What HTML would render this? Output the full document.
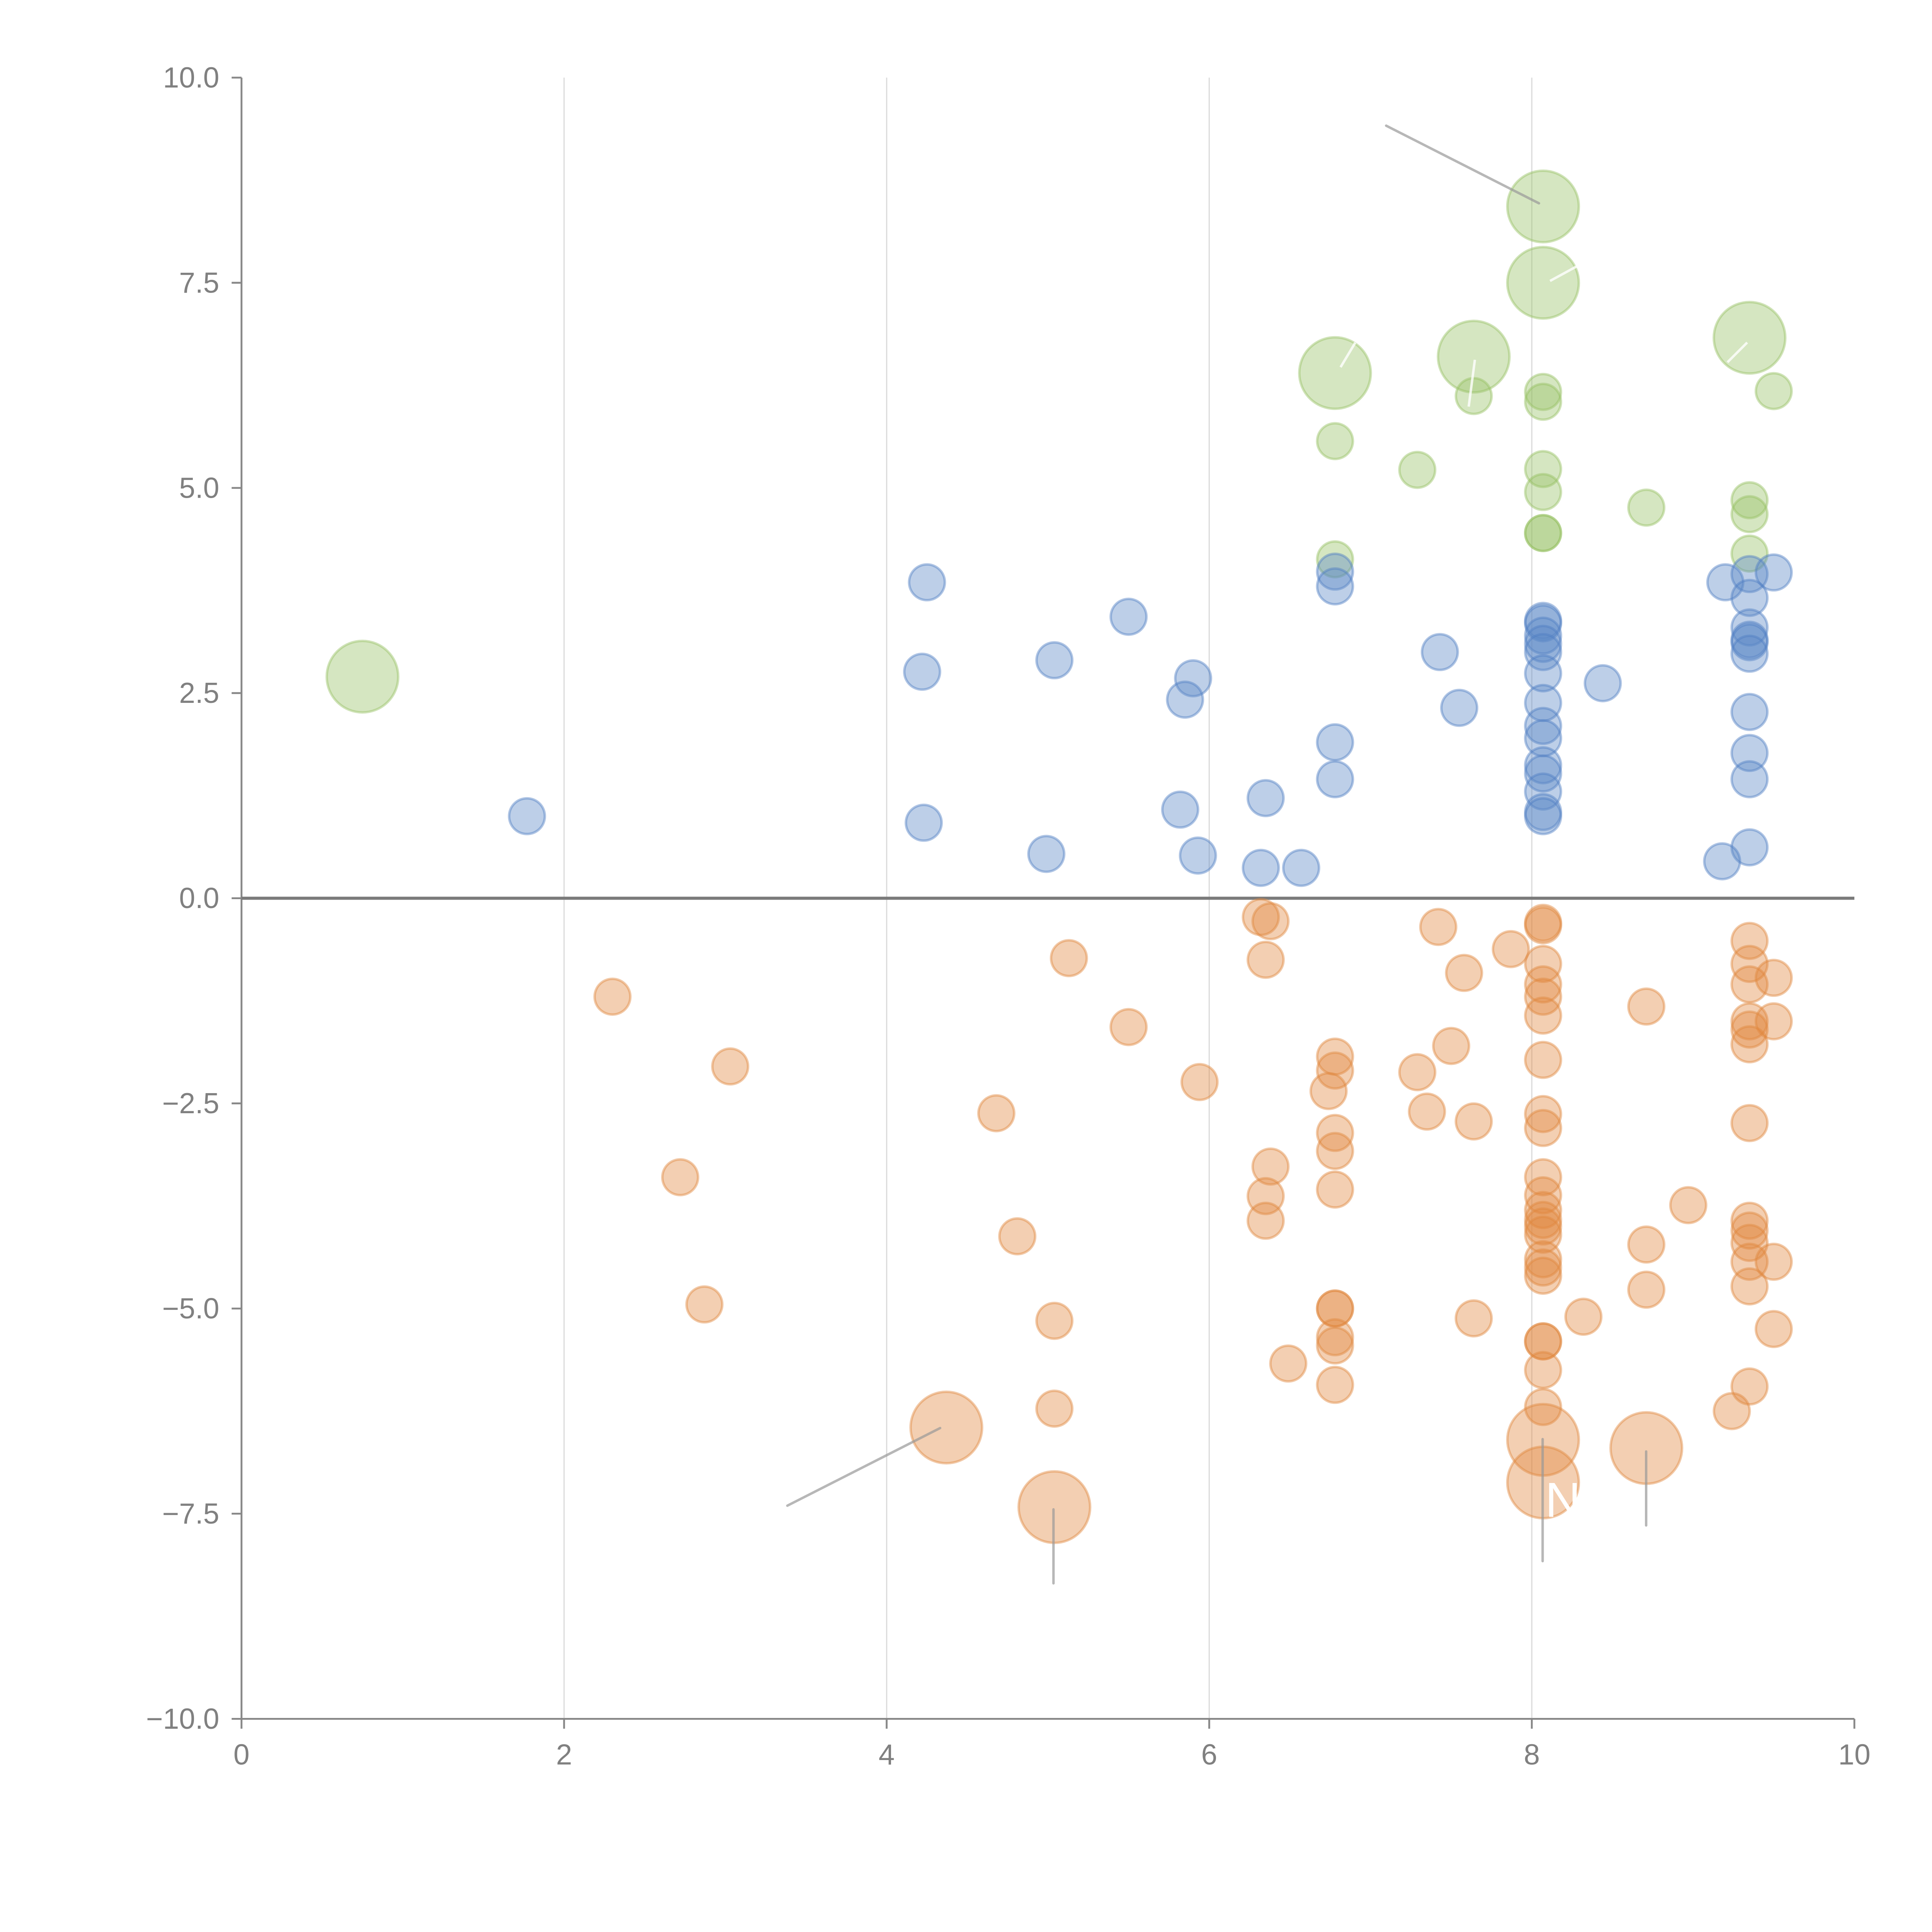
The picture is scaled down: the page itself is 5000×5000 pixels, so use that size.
<!DOCTYPE html>
<html><head><meta charset="utf-8"><style>html,body{margin:0;padding:0;background:#fff}svg{display:block}</style></head>
<body>
<svg id="chart" width="5000" height="5000" viewBox="0 0 1568 1568" xmlns="http://www.w3.org/2000/svg" font-family="Liberation Sans, sans-serif">
<g id="grid"></g>
<g id="axes"></g>
<g id="marks"></g>
<g id="ann"></g>
</svg>
<script>
const xTicks=[0,2,4,6,8,10];
const yTicks=[10,7.5,5,2.5,0,-2.5,-5,-7.5,-10];
const yTickLabels=["10.0","7.5","5.0","2.5","0.0","\u22122.5","\u22125.0","\u22127.5","\u221210.0"];
const greenX=[0.75,8.07,8.07,6.78,7.64,9.35,7.64,9.5,8.07,8.07,6.78,7.29,8.07,8.07,8.71,9.35,9.35,8.07,8.07,6.78,9.35];
const greenY=[2.7,8.43,7.5,6.4,6.6,6.83,6.12,6.18,6.17,6.05,5.57,5.22,5.23,4.95,4.76,4.85,4.68,4.45,4.45,4.13,4.2];
const greenSize=[2,2,2,2,2,2,1,1,1,1,1,1,1,1,1,1,1,1,1,1,1];
const blueX=[1.77,4.25,4.22,4.23,5.04,5.5,4.99,5.9,5.85,5.82,5.93,6.35,6.32,6.57,6.78,6.78,6.78,6.78,7.43,7.55,8.07,8.07,8.07,8.07,8.07,8.07,8.07,8.07,8.07,8.07,8.07,8.07,8.07,8.07,8.44,9.2,9.35,9.5,9.35,9.35,9.35,9.35,9.35,9.35,9.35,9.35,9.35,9.18];
const blueY=[1.0,3.85,2.76,0.92,2.9,3.43,0.54,2.68,2.42,1.08,0.52,1.22,0.37,0.37,3.98,3.8,1.9,1.45,3.0,2.32,3.38,3.35,3.2,3.1,3.0,2.74,2.38,2.1,1.95,1.62,1.52,1.3,1.05,1.0,2.62,3.85,3.95,3.97,3.66,3.3,3.15,3.12,2.98,2.27,1.77,1.45,0.62,0.45];
const orangeX=[2.3,3.03,2.72,2.87,4.68,4.81,5.04,5.04,5.13,5.5,5.94,6.32,6.38,6.35,6.38,6.35,6.35,6.49,6.78,6.78,6.74,6.78,6.78,6.78,6.78,6.78,6.78,6.78,6.78,7.29,7.35,7.42,7.5,7.58,7.64,7.64,7.87,8.07,8.07,8.07,8.07,8.07,8.07,8.07,8.07,8.07,8.07,8.07,8.07,8.07,8.07,8.07,8.07,8.07,8.07,8.07,8.07,8.07,8.07,8.32,8.71,8.71,8.71,8.97,9.24,9.35,9.35,9.35,9.35,9.35,9.35,9.35,9.35,9.35,9.35,9.35,9.35,9.35,9.5,9.5,9.5,9.5,4.37,5.04,8.07,8.07,8.71];
const orangeY=[-1.2,-2.05,-3.4,-4.95,-2.62,-4.12,-5.15,-6.22,-0.73,-1.57,-2.24,-0.23,-0.28,-0.75,-3.27,-3.63,-3.93,-5.67,-1.93,-2.1,-2.35,-2.86,-3.08,-3.55,-5.0,-5.0,-5.35,-5.45,-5.93,-2.12,-2.6,-0.35,-1.8,-0.91,-2.72,-5.12,-0.62,-0.3,-0.33,-0.8,-1.05,-1.2,-1.43,-1.97,-2.63,-2.8,-3.4,-3.62,-3.8,-3.92,-4.0,-4.1,-4.4,-4.5,-4.6,-5.4,-5.4,-5.75,-6.2,-5.1,-1.32,-4.22,-4.77,-3.74,-6.25,-0.52,-0.8,-1.05,-1.5,-1.6,-1.78,-2.74,-3.93,-4.05,-4.2,-4.43,-4.73,-5.95,-0.97,-1.5,-4.43,-5.25,-6.45,-7.42,-6.6,-7.12,-6.7];
const orangeSize=orangeX.map((_,i)=>i>=orangeX.length-5?2:1);
const blueSize=blueX.map(()=>1);

const NS="http://www.w3.org/2000/svg";
const X0=196,X1=1505,Y0=1395,Y1=63;
const sx=v=>X0+(v-0)/(10-0)*(X1-X0);
const sy=v=>Y0-(v+10)/20*(Y0-Y1);
const rad=s=>s===2?29:14.5;
function mk(tag,attrs,parent){const e=document.createElementNS(NS,tag);for(const k in attrs)e.setAttribute(k,attrs[k]);parent.appendChild(e);return e;}
const grid=document.getElementById('grid'),axes=document.getElementById('axes'),marks=document.getElementById('marks'),ann=document.getElementById('ann');

xTicks.forEach(t=>{
  if(t>0&&t<10){const g=mk('line',{x1:sx(t),x2:sx(t),y1:Y1,y2:Y0,stroke:'#dcdcdc','stroke-width':1},grid);
  
  }
  const tk=mk('line',{x1:sx(t),x2:sx(t),y1:Y0,y2:Y0+8,stroke:'#888','stroke-width':1.5},axes);
  
  
  const tx=mk('text',{x:sx(t),y:Y0+37,'text-anchor':'middle','font-size':23.5,fill:'#808080'},axes);
  tx.textContent=t;
  
  
});
yTicks.forEach((t,i)=>{
  const tk=mk('line',{x1:X0-8,x2:X0,y1:sy(t),y2:sy(t),stroke:'#888','stroke-width':1.5},axes);
  
  
  const tx=mk('text',{x:X0-18,y:sy(t)+8,'text-anchor':'end','font-size':23.5,fill:'#808080'},axes);
  tx.textContent=yTickLabels[i];
  
  
});
const ya=mk('line',{x1:X0,x2:X0,y1:Y1,y2:Y0,stroke:'#888','stroke-width':1.5},axes);


const xa=mk('line',{x1:X0,x2:X1,y1:Y0,y2:Y0,stroke:'#888','stroke-width':1.5},axes);


const zl=mk('line',{x1:X0,x2:X1,y1:sy(0),y2:sy(0),stroke:'#7a7a7a','stroke-width':2.5},axes);



function series(xs,ys,ss,fill,stroke,name){
  xs.forEach((x,i)=>{
    const c=mk('circle',{cx:sx(x),cy:sy(ys[i]),r:rad(ss[i]),fill:fill,'fill-opacity':0.4,stroke:stroke,'stroke-opacity':0.45,'stroke-width':2},marks);
    
    
  });
}
series(greenX,greenY,greenSize,'#96c064','#96c064','green-bubble');
series(blueX,blueY,blueSize,'#5b86c6','#4f7fc3','blue-bubble');
series(orangeX,orangeY,orangeSize,'#e0883e','#e0883e','orange-bubble');

const leaders=[[1125,102,1249,165],[639,1222,763,1159],[855,1225,855,1285],[1252,1168,1252,1267],[1336,1178,1336,1238]];
leaders.forEach(l=>{const e=mk('line',{x1:l[0],y1:l[1],x2:l[2],y2:l[3],stroke:'#999','stroke-opacity':0.7,'stroke-width':2,'stroke-linecap':'round'},ann);

});
const wl=[[1258,228,1280,216],[1088,298,1100,278],[1192,330,1197,292],[1402,294,1418,278]];
wl.forEach(l=>{const e=mk('line',{x1:l[0],y1:l[1],x2:l[2],y2:l[3],stroke:'#fff','stroke-opacity':0.8,'stroke-width':2},ann);

});
const n=mk('text',{x:1254,y:1231,'font-size':40,fill:'#fff'},ann);
n.textContent='N';


</script>
</body></html>
